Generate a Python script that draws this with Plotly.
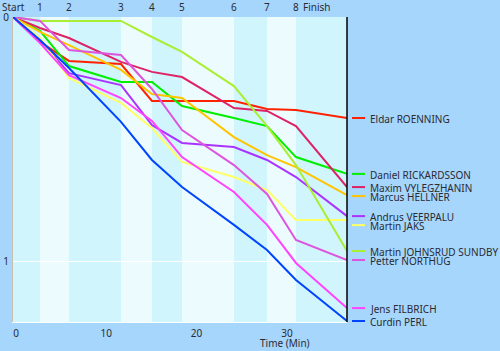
import plotly.graph_objects as go

# Checkpoint times (minutes) and labels
checkpoint_times = [0, 2.99, 6.20, 11.96, 15.39, 18.72, 24.47, 28.13, 31.34, 36.99]
checkpoint_labels = ["Start", "1", "2", "3", "4", "5", "6", "7", "8", "Finish"]

athletes = ["Eldar ROENNING", "Daniel RICKARDSSON", "Maxim VYLEGZHANIN", "Marcus HELLNER",
            "Andrus VEERPALU", "Martin JAKS", "Martin JOHNSRUD SUNDBY", "Petter NORTHUG",
            "Jens FILBRICH", "Curdin PERL"]
colors = ["#ff2200", "#00ee00", "#dd2266", "#ffc400", "#aa33ff", "#ffff66",
          "#aaee33", "#dd55dd", "#ff44ff", "#0044ff"]

eldar = [0, 0.102, 0.180, 0.193, 0.344, 0.344, 0.344, 0.377, 0.381, 0.414]
daniel = [0, 0.057, 0.201, 0.266, 0.266, 0.365, 0.414, 0.447, 0.574, 0.643]
maxim = [0, 0.045, 0.086, 0.184, 0.225, 0.246, 0.373, 0.385, 0.447, 0.697]
marcus = [0, 0.061, 0.115, 0.217, 0.316, 0.332, 0.492, 0.566, 0.615, 0.730]
andrus = [0, 0.094, 0.230, 0.279, 0.443, 0.516, 0.533, 0.586, 0.656, 0.816]
jaks = [0, 0.086, 0.250, 0.352, 0.455, 0.594, 0.656, 0.709, 0.832, 0.832]
sundby = [0, 0.016, 0.016, 0.016, 0.082, 0.143, 0.283, 0.447, 0.607, 0.959]
northug = [0, 0.016, 0.135, 0.156, 0.295, 0.463, 0.607, 0.725, 0.914, 0.996]
filbrich = [0, 0.107, 0.238, 0.332, 0.426, 0.574, 0.717, 0.852, 1.008, 1.193]
perl = [0, 0.094, 0.209, 0.430, 0.586, 0.697, 0.852, 0.955, 1.078, 1.246]

series = [eldar, daniel, maxim, marcus, andrus, jaks, sundby, northug, filbrich, perl]

FONT = "Noto Sans"
TXT = "#2a2a33"
band_a = "#d0f5fd"
band_b = "#ecfcfe"

fig = go.Figure()

# alternating checkpoint bands
for i in range(len(checkpoint_times) - 1):
    fig.add_shape(type="rect", xref="x", yref="paper",
                  x0=checkpoint_times[i], x1=checkpoint_times[i + 1], y0=0, y1=1,
                  fillcolor=band_a if i % 2 == 0 else band_b, line_width=0, layer="below")

for name, col, vals in zip(athletes, colors, series):
    fig.add_trace(go.Scatter(x=checkpoint_times, y=vals, mode="lines", name=name,
                             line=dict(color=col, width=2), showlegend=False,
                             cliponaxis=False))

# right-side labels with de-overlap
ymax = 1.25
gap = 9 / 244
order = sorted(range(len(athletes)), key=lambda k: series[k][-1])
prev = None
for k in order:
    y = series[k][-1]
    if prev is not None and y < prev + gap:
        y = prev + gap
    prev = y
    fig.add_shape(type="line", xref="paper", yref="y", x0=1.015, x1=1.054, y0=y, y1=y,
                  line=dict(color=colors[k], width=2))
    fig.add_annotation(x=1.063, y=y, xref="paper", yref="y", text=athletes[k],
                       showarrow=False, xanchor="left", yanchor="middle", yshift=-1,
                       font=dict(family=FONT, size=10, color=TXT))

# finish line
fig.add_shape(type="line", xref="paper", yref="paper", x0=1, x1=1, y0=0, y1=1,
              line=dict(color="black", width=1.5))

# checkpoint labels on top
for t, lab in zip(checkpoint_times, checkpoint_labels):
    if lab == "Finish":
        fig.add_annotation(x=t, y=1, xref="x", yref="paper", text=lab, showarrow=False,
                           xanchor="right", yanchor="middle", xshift=-14, yshift=10,
                           font=dict(family=FONT, size=10, color=TXT))
    else:
        fig.add_annotation(x=t, y=1, xref="x", yref="paper", text=lab, showarrow=False,
                           xanchor="center", yanchor="middle", yshift=10,
                           font=dict(family=FONT, size=10, color=TXT))

fig.add_annotation(x=0.814, y=0, xref="paper", yref="paper", text="Time (Min)",
                   showarrow=False, xanchor="center", yanchor="middle", yshift=-21,
                   font=dict(family=FONT, size=10, color=TXT))

fig.update_layout(
    width=500, height=351,
    margin=dict(l=13, r=153, t=17, b=29, autoexpand=False),
    paper_bgcolor="#a6d6fc", plot_bgcolor=band_a,
    font=dict(family=FONT, size=10, color=TXT),
    xaxis=dict(range=[0, checkpoint_times[-1]], tickvals=[0, 10, 20, 30],
               ticklabelshift=3, showgrid=False, zeroline=False, automargin=False,
               showline=True, linecolor="white", linewidth=1, ticks="",
               ticklabelstandoff=2),
    yaxis=dict(range=[ymax, 0], tickvals=[0, 1], showgrid=True, gridcolor="white",
               gridwidth=1, zeroline=False, showline=True, linecolor="#c8c0b0",
               linewidth=1, ticks="", ticklabelstandoff=1, automargin=False),
)

fig.write_html("out.html", config={"displayModeBar": False})
